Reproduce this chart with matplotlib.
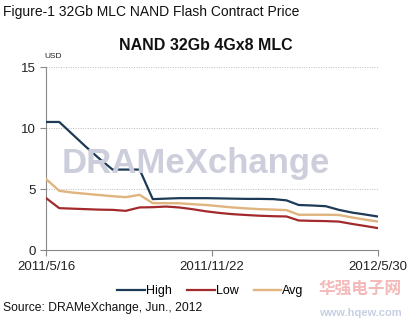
import datetime as dt
import matplotlib
matplotlib.use("Agg")
import matplotlib.pyplot as plt

# semi-monthly contract price dates
dates = ["2011-05-16", "2011-05-31", "2011-06-15", "2011-06-30", "2011-07-15",
         "2011-07-31", "2011-08-15", "2011-08-31", "2011-09-15", "2011-09-30",
         "2011-10-15", "2011-10-31", "2011-11-15", "2011-11-30", "2011-12-15",
         "2011-12-31", "2012-01-15", "2012-01-31", "2012-02-15", "2012-02-29",
         "2012-03-15", "2012-03-31", "2012-04-15", "2012-04-30", "2012-05-15",
         "2012-05-30"]
high = [10.5, 10.5, 9.5, 8.5, 7.55, 6.6, 6.6, 6.6, 4.18, 4.22, 4.26, 4.26, 4.26,
        4.24, 4.22, 4.2, 4.2, 4.18, 4.08, 3.7, 3.66, 3.6, 3.3, 3.08, 2.92, 2.75]
low = [4.26, 3.44, 3.4, 3.36, 3.32, 3.3, 3.22, 3.5, 3.52, 3.57, 3.5, 3.35, 3.18,
       3.05, 2.95, 2.88, 2.82, 2.78, 2.76, 2.43, 2.4, 2.38, 2.34, 2.15, 1.98, 1.8]
avg = [5.82, 4.86, 4.72, 4.62, 4.52, 4.42, 4.34, 4.53, 3.85, 3.85, 3.84, 3.76, 3.7,
       3.6, 3.5, 3.42, 3.36, 3.32, 3.28, 2.9, 2.9, 2.9, 2.88, 2.68, 2.5, 2.34]
tick_dates = ["2011-05-16", "2011-11-22", "2012-05-30"]
tick_labels = ["2011/5/16", "2011/11/22", "2012/5/30"]

x = [dt.datetime.strptime(d, "%Y-%m-%d") for d in dates]
xt = [dt.datetime.strptime(d, "%Y-%m-%d") for d in tick_dates]

plt.rcParams["font.family"] = ["Liberation Sans", "Noto Sans CJK SC", "DejaVu Sans"]

fig = plt.figure(figsize=(4.12, 3.27), dpi=100)
fig.patch.set_facecolor("white")
ax = fig.add_axes([0.112, 0.235, 0.806, 0.56])

# watermark behind the lines
fig.text(0.475, 0.50, "DRAMeXchange", fontsize=25, fontweight="bold",
         color="#cdcedc", ha="center", va="center", zorder=0)

ax.patch.set_alpha(0)
ax.plot(x, avg, color="#e0b47e", lw=1.7, label="Avg", zorder=3)
ax.plot(x, low, color="#a32a2c", lw=1.6, label="Low", zorder=4)
ax.plot(x, high, color="#1d3a56", lw=1.6, label="High", zorder=5)

ax.set_xlim(x[0], x[-1])
ax.set_ylim(0, 15)
ax.set_yticks([0, 5, 10, 15])
ax.set_xticks(xt)
ax.set_xticklabels(tick_labels)
ax.tick_params(axis="both", labelsize=9.5, labelcolor="#222222", color="#888888",
               length=4, width=0.8)
ax.grid(axis="y", linestyle=(0, (1, 1.5)), color="#bbbbbb", lw=0.7)
for s in ["top", "right"]:
    ax.spines[s].set_visible(False)
for s in ["left", "bottom"]:
    ax.spines[s].set_color("#888888")

handles, labels = ax.get_legend_handles_labels()
order = [2, 1, 0]
ax.legend([handles[i] for i in order], [labels[i] for i in order],
          loc="upper center", bbox_to_anchor=(0.495, -0.13), ncol=3, frameon=False,
          fontsize=9, handlelength=2.2, handletextpad=0.1, columnspacing=1.2)

fig.text(0.008, 0.962, "Figure-1 32Gb MLC NAND Flash Contract Price", fontsize=10,
         color="#111111", ha="left", va="center")
fig.text(0.50, 0.862, "NAND 32Gb 4Gx8 MLC", fontsize=11.5, fontweight="bold",
         color="#111111", ha="center", va="center")
fig.text(0.108, 0.828, "USD", fontsize=6, color="#222222", ha="left", va="center")
fig.text(0.008, 0.058, "Source: DRAMeXchange, Jun., 2012", fontsize=8.7,
         color="#111111", ha="left", va="center")

# site watermark
fig.text(0.975, 0.115, "华强电子网", fontsize=12, fontweight="bold",
         color="#f2a8a8", ha="right", va="center", alpha=0.8)
fig.text(0.975, 0.042, "www.hqew.com", fontsize=8, fontweight="bold",
         color="#b9c4dc", ha="right", va="center", alpha=0.8)

fig.savefig("out.png", dpi=100, facecolor="white")
